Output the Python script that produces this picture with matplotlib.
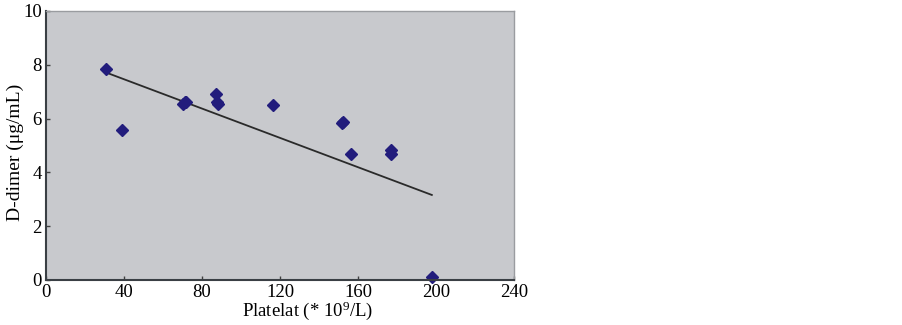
import matplotlib.pyplot as plt

plt.rcParams['font.family'] = ['Liberation Serif', 'DejaVu Serif']
plt.rcParams['mathtext.fontset'] = 'custom'
plt.rcParams['mathtext.rm'] = 'Liberation Serif'

# --- Data ---
platelet = [30.8, 38.8, 70.4, 71.3, 72.0, 87.2, 87.5, 88.0, 116.4,
            151.5, 152.5, 156.2, 176.9, 176.9, 197.7]
ddimer = [7.83, 5.58, 6.54, 6.63, 6.60, 6.90, 6.63, 6.54, 6.50,
          5.83, 5.88, 4.68, 4.68, 4.82, 0.10]
trend_x = [30.8, 197.8]
trend_y = [7.71, 3.16]
xticks = [0, 40, 80, 120, 160, 200, 240]
yticks = [0, 2, 4, 6, 8, 10]

fig = plt.figure(figsize=(9.02, 3.25), dpi=100)
ax = fig.add_axes([0.051, 0.1385, 0.519, 0.828])
ax.set_facecolor('#c8c9cd')

ax.plot(trend_x, trend_y, color='#2a2a2a', linewidth=1.3)
ax.plot(platelet, ddimer, linestyle='none', marker='D', markersize=5.8,
        color='#221c7c', clip_on=False)

ax.set_xlim(0, 240)
ax.set_ylim(0, 10)
ax.set_xticks(xticks)
ax.set_yticks(yticks)
ax.tick_params(direction='in', length=3, width=1, labelsize=13.5, color='#404040', pad=3)

for s in ['left', 'bottom']:
    ax.spines[s].set_color('#3a3f44')
    ax.spines[s].set_linewidth(1.5)
for s in ['top', 'right']:
    ax.spines[s].set_color('#9a9ca0')
    ax.spines[s].set_linewidth(1)

ax.set_xlabel(r'Platelat (* $\mathregular{10^9}$/L)', fontsize=13.5)
ax.set_ylabel('D-dimer (\u03bcg/mL)', fontsize=14)
ax.xaxis.set_label_coords(0.558, -0.072)
ax.yaxis.set_label_coords(-0.047, 0.476)

plt.savefig('out.png', dpi=100)
